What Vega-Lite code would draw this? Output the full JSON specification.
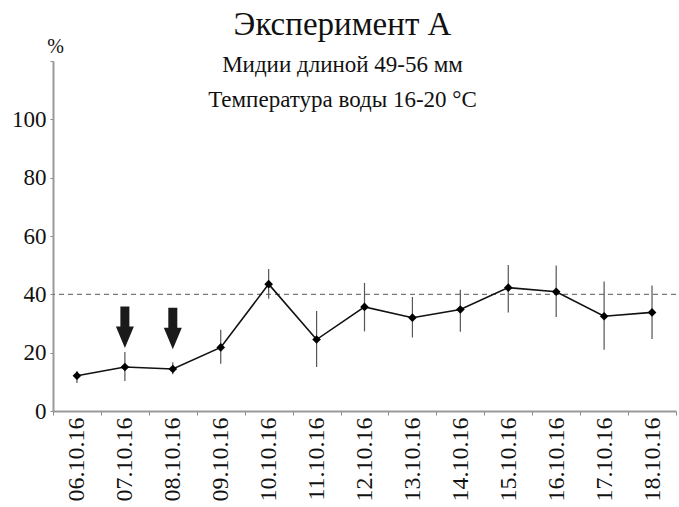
{
  "$schema": "https://vega.github.io/schema/vega-lite/v6.json",
  "width": 623,
  "height": 350,
  "autosize": {"type": "none"},
  "padding": {"left": 53, "top": 61, "right": 3, "bottom": 96},
  "background": "white",
  "title": {
    "text": "Эксперимент  A",
    "subtitle": ["Мидии длиной 49-56 мм", "Температура воды 16-20 °C"],
    "anchor": "middle",
    "dx": -22,
    "offset": -76,
    "fontSize": 33,
    "fontWeight": "normal",
    "color": "#111",
    "subtitleFontSize": 23,
    "subtitleColor": "#111",
    "subtitleLineHeight": 35,
    "subtitlePadding": 12
  },
  "datasets": {
    "obs": [
      {"date": "06.10.16", "value": 12.1, "lo": 9.6, "hi": 13.7},
      {"date": "07.10.16", "value": 15.1, "lo": 10.3, "hi": 20.2},
      {"date": "08.10.16", "value": 14.4, "lo": 12.6, "hi": 16.7},
      {"date": "09.10.16", "value": 21.8, "lo": 16.2, "hi": 27.9},
      {"date": "10.10.16", "value": 43.5, "lo": 38.5, "hi": 48.7},
      {"date": "11.10.16", "value": 24.5, "lo": 15.1, "hi": 34.3},
      {"date": "12.10.16", "value": 35.7, "lo": 27.3, "hi": 43.9},
      {"date": "13.10.16", "value": 32.0, "lo": 25.2, "hi": 39.1},
      {"date": "14.10.16", "value": 34.8, "lo": 27.2, "hi": 41.6},
      {"date": "15.10.16", "value": 42.3, "lo": 33.8, "hi": 50.1},
      {"date": "16.10.16", "value": 40.9, "lo": 32.2, "hi": 49.9},
      {"date": "17.10.16", "value": 32.5, "lo": 21.0, "hi": 44.4},
      {"date": "18.10.16", "value": 33.8, "lo": 24.7, "hi": 43.0}
    ],
    "arrows": [
      {"date": "07.10.16", "level": 28.7},
      {"date": "08.10.16", "level": 28.3}
    ]
  },
  "encoding": {
    "x": {
      "field": "date",
      "type": "ordinal",
      "sort": null,
      "scale": {"type": "band", "paddingInner": 0, "paddingOuter": 0},
      "axis": {
        "title": null,
        "labelAngle": 270,
        "labelFontSize": 24,
        "labelColor": "#111",
        "labelPadding": 2,
        "tickBand": "extent",
        "tickSize": 4,
        "tickColor": "#888",
        "domainColor": "#999",
        "domainWidth": 2,
        "grid": false
      }
    }
  },
  "layer": [
    {
      "mark": {"type": "rule", "color": "#777", "strokeWidth": 1.2, "strokeDash": [5, 4]},
      "data": {"values": [{"ref": 40}]},
      "encoding": {
        "x": null,
        "y": {"field": "ref", "type": "quantitative"}
      }
    },
    {
      "data": {"name": "obs"},
      "mark": {"type": "rule", "color": "#555", "strokeWidth": 1.2},
      "encoding": {
        "y": {
          "field": "lo",
          "type": "quantitative",
          "scale": {"domain": [0, 120], "nice": false},
          "axis": {
            "title": "%",
            "titleAngle": 0,
            "titleAlign": "center",
            "titleBaseline": "alphabetic",
            "titleX": 2,
            "titleY": -9,
            "titleFontSize": 20,
            "titleFontWeight": "normal",
            "titleColor": "#111",
            "values": [0, 20, 40, 60, 80, 100, 120],
            "labelExpr": "datum.value == 120 ? '' : datum.label",
            "labelFontSize": 23,
            "labelColor": "#111",
            "labelPadding": 4,
            "tickSize": 3,
            "tickColor": "#888",
            "domainColor": "#999",
            "domainWidth": 2,
            "grid": false
          }
        },
        "y2": {"field": "hi"}
      }
    },
    {
      "data": {"name": "obs"},
      "mark": {"type": "line", "color": "#111", "strokeWidth": 1.6},
      "encoding": {
        "y": {"field": "value", "type": "quantitative"}
      }
    },
    {
      "data": {"name": "obs"},
      "mark": {"type": "point", "shape": "diamond", "filled": true, "color": "#000", "size": 75, "opacity": 1},
      "encoding": {
        "y": {"field": "value", "type": "quantitative"}
      }
    },
    {
      "data": {"name": "arrows"},
      "mark": {
        "type": "point",
        "shape": "M-0.5,-2.31L0.5,-2.31L0.5,-0.09L1,-0.09L0,2.31L-1,-0.09L-0.5,-0.09Z",
        "filled": true,
        "color": "#1a1a1a",
        "size": 324,
        "opacity": 1
      },
      "encoding": {
        "y": {"field": "level", "type": "quantitative"}
      }
    }
  ],
  "config": {
    "view": {"stroke": null},
    "font": "Times New Roman",
    "title": {"font": "Times New Roman", "subtitleFont": "Times New Roman"},
    "axis": {"labelFont": "Times New Roman", "titleFont": "Times New Roman"}
  }
}
